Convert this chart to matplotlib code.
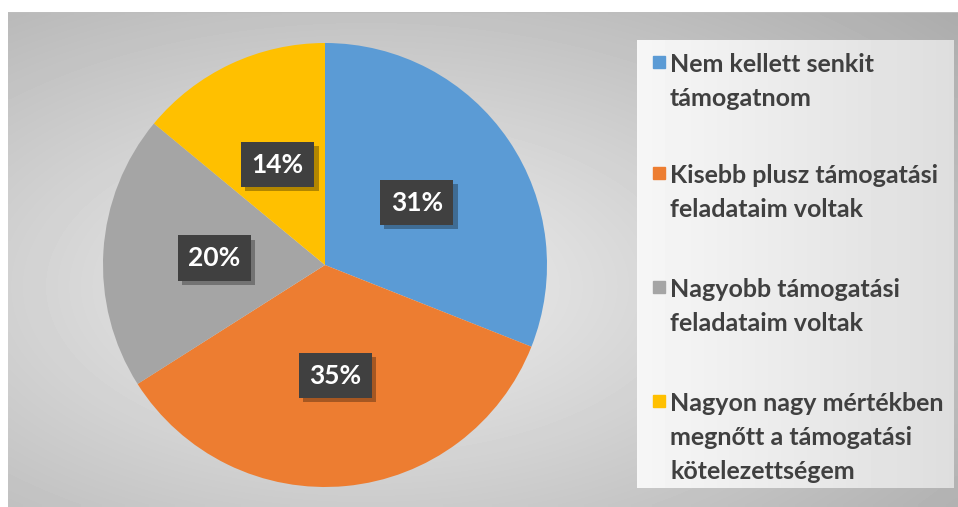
import numpy as np
import matplotlib
matplotlib.use('Agg')
from matplotlib import pyplot as plt
from matplotlib import patheffects
from matplotlib.patches import Rectangle

labels = ['Nem kellett senkit\ntámogatnom',
          'Kisebb plusz támogatási\nfeladataim voltak',
          'Nagyobb támogatási\nfeladataim voltak',
          'Nagyon nagy mértékben\nmegnőtt a támogatási\nkötelezettségem']
shares = [31, 35, 20, 14]
colors = ['#5b9bd5', '#ed7d31', '#a5a5a5', '#ffc000']

W, H = 958, 507
fig = plt.figure(figsize=(W / 100, H / 100), dpi=100)
fig.patch.set_facecolor('white')

# gray gradient panel behind everything
bg = fig.add_axes([8 / W, 0, (W - 8) / W, (H - 12) / H])
yy, xx = np.mgrid[0:100, 0:200]
d = np.sqrt(((xx - 75) / 200) ** 2 + ((yy - 55) / 100) ** 2)
bg.imshow(0.94 - 0.32 * d, cmap='gray', vmin=0, vmax=1, aspect='auto',
          extent=[0, 1, 0, 1], interpolation='bilinear')
bg.plot([0, 1], [1, 1], color='#bdbdbd', lw=1.5, transform=bg.transAxes)
bg.set_axis_off()

# legend panel
lg = fig.add_axes([637 / W, (H - 488) / H, (954 - 637) / W, (488 - 40) / H])
gx = np.linspace(0, 1, 100)[None, :]
lg.imshow(0.965 - 0.095 * gx, cmap='gray', vmin=0, vmax=1, aspect='auto',
          extent=[0, 317, 448, 0], interpolation='bilinear')
lg.set_xlim(0, 317)
lg.set_ylim(448, 0)
lg.set_axis_off()

baselines = [32, 143, 257, 371]
line_gap = 34
for lab, col, yb in zip(labels, colors, baselines):
    lg.add_patch(Rectangle((16, yb - 16), 12, 12, color=col))
    for i, line in enumerate(lab.split('\n')):
        lg.text(33, yb + i * line_gap, line, ha='left', va='baseline',
                fontsize=18, fontweight='bold', family='Lato',
                color='#404040')

# pie
ax = fig.add_axes([103 / W, (H - 487) / H, 444 / W, 444 / H])
wedges, texts, autotexts = ax.pie(shares, colors=colors, startangle=90,
                                  counterclock=False, autopct='%d%%',
                                  pctdistance=0.5, radius=1)
for t in autotexts:
    t.set_color('white')
    t.set_fontsize(19)
    t.set_fontweight('bold')
    t.set_family('Lato')
    t.set_bbox(dict(boxstyle='square,pad=0.4', facecolor='#404040',
                    edgecolor='none', lw=0))
    t.get_bbox_patch().set_path_effects(
        [patheffects.withSimplePatchShadow(offset=(3, -3), shadow_rgbFace='black', alpha=0.3),
         patheffects.Normal()])
ax.set_xlim(-1, 1)
ax.set_ylim(-1, 1)
ax.set_aspect('equal')

plt.savefig('out.png', dpi=100)
